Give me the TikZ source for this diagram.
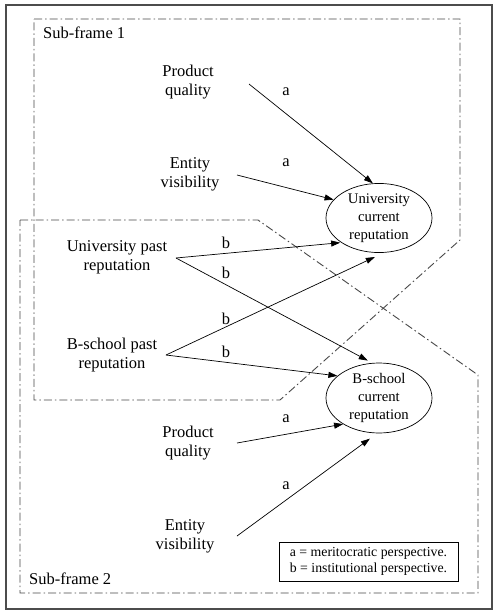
\documentclass[tikz,border=0pt]{standalone}
\usepackage{fontspec}
\setmainfont{Liberation Serif}
\usetikzlibrary{shapes.geometric,arrows.meta}
\begin{document}
\begin{tikzpicture}[x=1pt,y=-1pt,
  frame/.style={draw=black!72, line width=0.9pt, dash pattern=on 8pt off 3pt on 1.5pt off 3pt},
  lbl/.style={font=\fontsize{16.5}{19}\selectfont, align=center, inner sep=0pt},
  small/.style={font=\fontsize{16.5}{19}\selectfont, inner sep=0pt},
  ell/.style={ellipse, draw, line width=0.7pt, minimum width=106pt, minimum height=64pt, inner sep=0pt, align=center, font=\fontsize{14.7}{18}\selectfont},
  arr/.style={-{Triangle[length=9pt,width=6pt]}, line width=0.7pt},
  legend/.style={draw, line width=0.6pt, align=left, font=\fontsize{13.8}{15.5}\selectfont, inner sep=0pt, minimum width=179pt, minimum height=39pt}]
\useasboundingbox (0,0) rectangle (500,616);
% outer frame
\draw[draw=black!70, line width=1.4pt] (6,5) rectangle (492,609);
% sub-frames
\draw[frame] (34,19) -- (460,19) -- (460,240) -- (280,400) -- (34,400) -- cycle;
\draw[frame] (20,220) -- (258,220) -- (478,375) -- (478,593) -- (20,593) -- cycle;
\node[small, anchor=west] (sf1) at (43,33) {Sub-frame 1};
\node[small, anchor=west] (sf2) at (29,579) {Sub-frame 2};
% nodes
\node[lbl] (pq1) at (188,82) {Product\\quality};
\node[lbl] (ev1) at (190,174) {Entity\\visibility};
\node[lbl] (up) at (117,257) {University past\\reputation};
\node[lbl] (bp) at (112,355) {B-school past\\reputation};
\node[lbl] (pq2) at (188,443) {Product\\quality};
\node[lbl] (ev2) at (185,536) {Entity\\visibility};
\node[ell] (uc) at (379,218) {University\\current\\reputation};
\node[ell, minimum height=70pt] (bc) at (379,398) {B-school\\current\\reputation};
\node[legend] (lg) at (368.5,561.5) {a = meritocratic perspective.\\b = institutional perspective.};
% start coordinates
\coordinate (s1) at (249,84);
\coordinate (s2) at (237,175);
\coordinate (s3) at (176,258);
\coordinate (s5) at (166,355);
\coordinate (s7) at (237,443);
\coordinate (s8) at (237,536);
% arrows
\draw[arr] (s1) -- (uc.100);
\draw[arr] (s2) -- (uc.158);
\draw[arr, shorten >=1pt] (s3) -- (uc.213);
\draw[arr, shorten >=5pt] (s3) -- (bc.101);
\draw[arr, shorten >=10pt] (s5) -- (uc.278);
\draw[arr] (s5) -- (bc.152);
\draw[arr] (s7) -- (bc.216);
\draw[arr, shorten >=9pt] (s8) -- (bc.267);
% edge labels
\node[small] (la1) at (286,92) {a};
\node[small] (la2) at (286,163) {a};
\node[small] (lb3) at (226,243) {b};
\node[small] (lb4) at (226,273) {b};
\node[small] (lb5) at (226,319) {b};
\node[small] (lb6) at (226,352) {b};
\node[small] (la7) at (286,419) {a};
\node[small] (la8) at (286,486) {a};
\end{tikzpicture}
\end{document}
